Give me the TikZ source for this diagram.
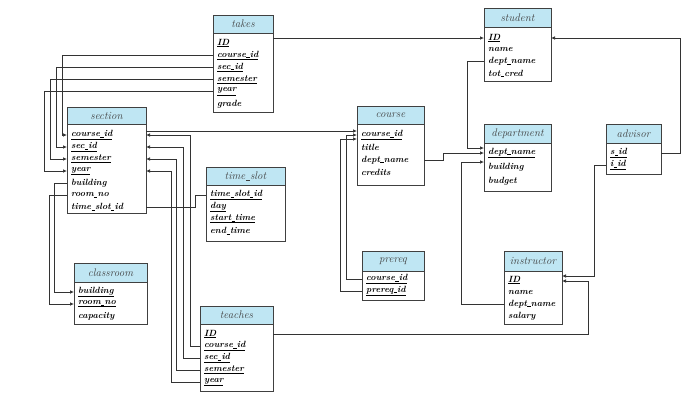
\documentclass[tikz,border=0pt]{standalone}
\usetikzlibrary{arrows.meta,calc}
\definecolor{hdrblue}{HTML}{BFE6F3}
\tikzset{
	hdr/.style={draw=black!75, line width=0.8pt, fill=hdrblue, inner sep=0pt, outer sep=0pt,
		font=\fontsize{11}{12}\selectfont\itshape, text=black!75},
	body/.style={draw=black!75, line width=0.8pt, fill=white, inner sep=0pt, outer sep=0pt},
	row/.style={anchor=west, inner sep=0pt, font=\fontsize{9}{9}\selectfont\bfseries\itshape},
	fk/.style={draw=black!80, line width=0.7pt, -{Latex[length=4pt,width=3.5pt]}},
	link/.style={draw=black!80, line width=0.7pt}
}
% short underscore for attribute names
\newcommand{\us}{\kern0.04em\rule[-0.1ex]{0.35em}{0.45pt}\kern0.04em}
% name, x, top, width, header height, body height, title
\newcommand{\relation}[7]{%
	\node[hdr, minimum width=#4pt, minimum height=#5pt, anchor=north west] (#1-h) at (#2,#3) {#7};
	\node[body, minimum width=#4pt, minimum height=#6pt, anchor=north west] (#1) at (#1-h.south west) {};}
% table, first offset, pitch, attributes
\newcommand{\attrs}[4]{%
	\foreach \t [count=\i] in {#4}
		\node[row] (#1-\i) at ($(#1.north west)+(4,{#2+(\i-1)*#3})$) {\t};}
\begin{document}
\begin{tikzpicture}[x=1pt,y=-1pt]
	\useasboundingbox (0,0) rectangle (700,407);
	
	% relations
	\relation{takes}{213}{15}{60}{18}{79}{takes}
	\relation{student}{484}{8}{67}{19}{54}{student}
	\relation{section}{67}{107}{79}{17}{89}{section}
	\relation{timeslot}{206}{167}{79}{18}{56}{time\us slot}
	\relation{course}{357}{106}{67}{18}{61}{course}
	\relation{department}{484}{124}{67}{19}{48}{department}
	\relation{advisor}{606}{124}{55}{19}{31}{advisor}
	\relation{classroom}{74}{263}{73}{19}{42}{classroom}
	\relation{prereq}{362}{251}{62}{20}{29}{prereq}
	\relation{instructor}{504}{251}{58}{20}{53}{instructor}
	\relation{teaches}{200}{306}{73}{18}{67}{teaches}
	
	% attributes
	\attrs{takes}{10}{12.2}{\underline{ID},\underline{course\us id},\underline{sec\us id},\underline{semester},\underline{year},grade}
	\attrs{student}{11}{11.7}{\underline{ID},name,dept\us name,tot\us cred}
	\attrs{section}{11}{12}{\underline{course\us id},\underline{sec\us id},\underline{semester},\underline{year},building,room\us no,time\us slot\us id}
	\attrs{timeslot}{10}{12}{\underline{time\us slot\us id},\underline{day},\underline{start\us time},end\us time}
	\attrs{course}{11}{12.5}{\underline{course\us id},title,dept\us name,credits}
	\attrs{department}{10}{14}{\underline{dept\us name},building,budget}
	\attrs{advisor}{10}{12}{\underline{s\us id},\underline{i\us id}}
	\attrs{classroom}{10}{12}{\underline{building},\underline{room\us no},capacity}
	\attrs{prereq}{8}{12}{\underline{course\us id},\underline{prereq\us id}}
	\attrs{instructor}{9}{12}{\underline{ID},name,dept\us name,salary}
	\attrs{teaches}{10}{12}{\underline{ID},\underline{course\us id},\underline{sec\us id},\underline{semester},\underline{year}}
	
	% takes
	\draw[fk] (takes.east |- student-1) -- (student.west |- student-1);
	\draw[fk] (takes-2 -| takes.west) -| ($(section.west |- section-1)+(-5,0)$) -- (section.west |- section-1);
	\draw[fk] (takes-3 -| takes.west) -| ($(section.west |- section-2)+(-11,0)$) -- (section.west |- section-2);
	\draw[fk] (takes-4 -| takes.west) -| ($(section.west |- section-3)+(-17,0)$) -- (section.west |- section-3);
	\draw[fk] (takes-5 -| takes.west) -| ($(section.west |- section-4)+(-23,0)$) -- (section.west |- section-4);
	
	% teaches
	\draw[fk] (teaches-2 -| teaches.west) -| ($(section.east |- section-1)+(44,0)$) -- (section.east |- section-1);
	\draw[fk] (teaches-3 -| teaches.west) -| ($(section.east |- section-2)+(37,0)$) -- (section.east |- section-2);
	\draw[fk] (teaches-4 -| teaches.west) -| ($(section.east |- section-3)+(30,0)$) -- (section.east |- section-3);
	\draw[fk] (teaches-5 -| teaches.west) -| ($(section.east |- section-4)+(25,0)$) -- (section.east |- section-4);
	\draw[fk] (teaches-1 -| teaches.east) -| ($(instructor.east |- instructor-1)+(26,1)$) -- ($(instructor.east |- instructor-1)+(0,1)$);
	
	% section
	\draw[fk] ($(section.east |- course-1)+(0,-4)$) -- ($(course.west |- course-1)+(0,-4)$);
	\draw[link] (section-7 -| section.east) -- ++(49,0) |- (timeslot.west |- timeslot-1);
	\draw[fk] (section-5 -| section.west) -| ($(classroom.west |- classroom-1)+(-20,0)$) -- (classroom.west |- classroom-1);
	\draw[fk] (section-6 -| section.west) -| ($(classroom.west |- classroom-2)+(-25,0)$) -- (classroom.west |- classroom-2);
	
	% prereq
	\draw[fk] (prereq-1 -| prereq.west) -| ($(course.west |- course-1)+(-11,0)$) -- (course.west |- course-1);
	\draw[fk] (prereq-2 -| prereq.west) -| ($(course.west |- course-1)+(-17,4)$) -- ($(course.west |- course-1)+(0,4)$);
	
	% dept_name
	\draw[fk] (course-3 -| course.east) -| ($(department.west |- department-1)+(-41,0)$) -- (department.west |- department-1);
	\draw[fk] (student-3 -| student.west) -| ($(department.west |- department-1)+(-17,-5)$) -- ($(department.west |- department-1)+(0,-5)$);
	\draw[fk] (instructor-3 -| instructor.west) -| ($(department.west |- department-1)+(-23,9)$) -- ($(department.west |- department-1)+(0,9)$);
	
	% advisor
	\draw[fk] (advisor-1 -| advisor.east) -| ($(student.east |- student-1)+(129,0)$) -- (student.east |- student-1);
	\draw[fk] (advisor-2 -| advisor.west) -| ($(instructor.east |- instructor-1)+(32,-4)$) -- ($(instructor.east |- instructor-1)+(0,-4)$);
	
\end{tikzpicture}
\end{document}
